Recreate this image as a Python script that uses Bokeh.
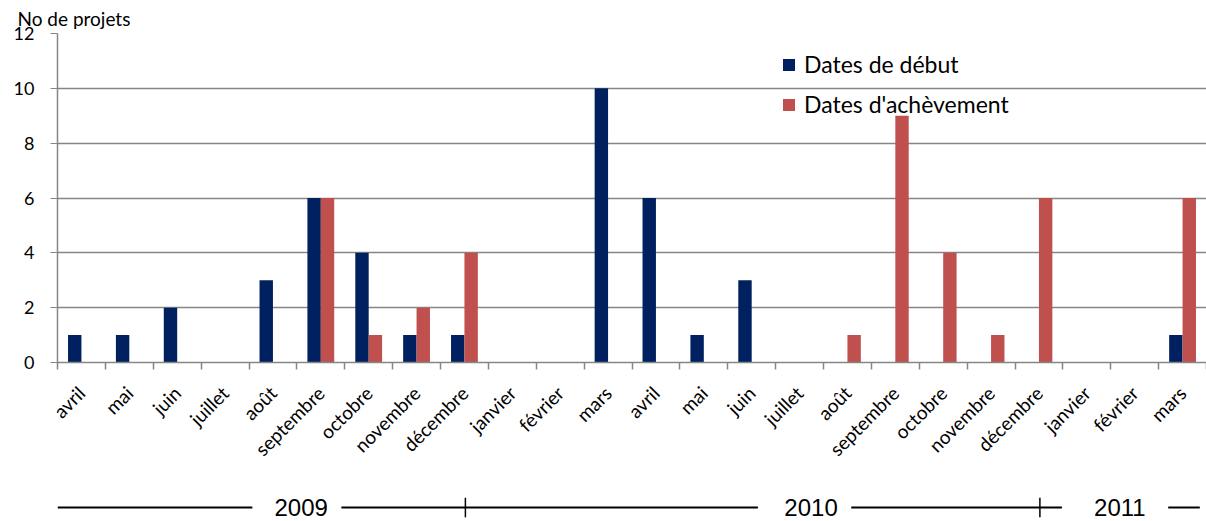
import numpy as np
from bokeh.plotting import figure
from bokeh.models import Range1d, FixedTicker, LinearAxis, Legend, LegendItem
from bokeh.layouts import column
from bokeh.embed import file_html
from bokeh.resources import INLINE
from bokeh.core.properties import value

months = ["avril", "mai", "juin", "juillet", "août", "septembre", "octobre", "novembre",
          "décembre", "janvier", "février", "mars",
          "avril", "mai", "juin", "juillet", "août", "septembre", "octobre", "novembre",
          "décembre", "janvier", "février", "mars"]
debut = [1, 1, 2, 0, 3, 6, 4, 1, 1, 0, 0, 10, 6, 1, 3, 0, 0, 0, 0, 0, 0, 0, 0, 1]
achevement = [0, 0, 0, 0, 0, 6, 1, 2, 4, 0, 0, 0, 0, 0, 0, 0, 1, 9, 4, 1, 6, 0, 0, 6]
years = ["2009", "2010", "2011"]
y_ticks = [0, 2, 4, 6, 8, 10, 12]

FONT = "Lato"
GRAY = "#868686"
BLUE = "#002060"
RED = "#C0504D"

n = len(months)
centers = np.arange(n) + 0.5
bw = 0.28

p = figure(width=1206, height=493, x_range=Range1d(0, n), y_range=Range1d(0, 12),
           output_backend="svg", toolbar_location=None, x_axis_type=None,
           min_border_left=57, min_border_right=0, min_border_top=33, min_border_bottom=131,
           title="No de projets")
p.outline_line_color = None
p.title.align = "left"
p.title.offset = -40
p.title.text_font = FONT
p.title.text_font_size = "19px"
p.title.text_font_style = "normal"
p.title.text_color = "black"
p.title.standoff = 8

r1 = p.vbar(x=centers - bw / 2, top=debut, width=bw, fill_color=BLUE, line_color=None)
r2 = p.vbar(x=centers + bw / 2, top=achevement, width=bw, fill_color=RED, line_color=None)

# y axis
p.yaxis.ticker = FixedTicker(ticks=y_ticks)
p.yaxis.axis_line_color = GRAY
p.yaxis.axis_line_width = 1.5
p.yaxis.major_tick_line_color = GRAY
p.yaxis.major_tick_out = 7
p.yaxis.major_tick_in = 0
p.yaxis.minor_tick_line_color = None
p.yaxis.major_label_text_font = FONT
p.yaxis.major_label_text_font_size = "18px"
p.yaxis.major_label_text_color = "black"
p.yaxis.major_label_standoff = 16
p.ygrid.ticker = FixedTicker(ticks=y_ticks)
p.ygrid.grid_line_color = GRAY
p.ygrid.grid_line_width = 1.5
p.xgrid.visible = False

# x axis: tick marks at category boundaries
ax_ticks = LinearAxis(ticker=FixedTicker(ticks=list(range(n + 1))))
ax_ticks.axis_line_color = GRAY
ax_ticks.axis_line_width = 1.5
ax_ticks.major_tick_line_color = GRAY
ax_ticks.major_tick_line_width = 1.5
ax_ticks.major_tick_out = 7
ax_ticks.major_tick_in = 0
ax_ticks.minor_tick_line_color = None
ax_ticks.major_label_text_alpha = 0
ax_ticks.major_label_text_font_size = "1px"
ax_ticks.major_label_standoff = 0
p.add_layout(ax_ticks, "below")

# x axis: month labels at category centres
ax_lab = LinearAxis(ticker=FixedTicker(ticks=list(centers)))
ax_lab.major_label_overrides = {float(c): m for c, m in zip(centers, months)}
ax_lab.axis_line_color = None
ax_lab.major_tick_line_color = None
ax_lab.minor_tick_line_color = None
ax_lab.major_label_orientation = np.pi / 4
ax_lab.major_label_text_font = FONT
ax_lab.major_label_text_font_size = "19px"
ax_lab.major_label_text_color = "black"
ax_lab.major_label_standoff = 14
p.add_layout(ax_lab, "below")

legend = Legend(items=[LegendItem(label="Dates de début", renderers=[r1]),
                       LegendItem(label="Dates d'achèvement", renderers=[r2])],
                location=(724, 244))
legend.glyph_width = 15
legend.glyph_height = 15
legend.label_height = 28
legend.label_standoff = 8
legend.label_text_font = FONT
legend.label_text_font_size = "23px"
legend.label_text_color = "black"
legend.spacing = 12
legend.padding = 0
legend.margin = 0
legend.border_line_color = None
legend.background_fill_alpha = 0
p.add_layout(legend)

# year strip
q = figure(width=1206, height=28, x_range=p.x_range, y_range=Range1d(0, 1),
           output_backend="svg", toolbar_location=None, x_axis_type=None, y_axis_type=None,
           min_border_left=57, min_border_right=0, min_border_top=0, min_border_bottom=0)
q.outline_line_color = None
q.xgrid.visible = False
q.ygrid.visible = False
q.segment(x0=[0.0, 5.93, 16.58, 23.2], y0=[0.5] * 4, x1=[4.07, 14.63, 20.98, 23.86], y1=[0.5] * 4,
          line_color="black", line_width=2)
q.segment(x0=[8.52, 20.52], y0=[0.15, 0.15], x1=[8.52, 20.52], y1=[0.85, 0.85],
          line_color="black", line_width=1.5)
q.text(x=[5.09, 15.74, 22.19], y=[0.5] * 3, text=years, text_align="center",
       text_baseline="middle", text_font=value("Liberation Sans"),
       text_font_size="24px", text_color="black")

layout = column(p, q, spacing=0)
open("out.html", "w").write(file_html(layout, INLINE))
